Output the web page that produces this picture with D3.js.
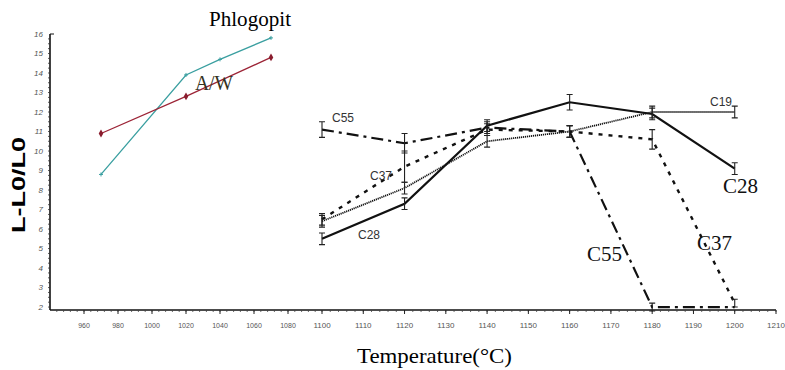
<!DOCTYPE html>
<html>
<head>
<meta charset="utf-8">
<script src="https://cdn.jsdelivr.net/npm/d3@7"></script>
<style>
body { margin: 0; background: #fff; }
</style>
</head>
<body>
<div id="chart"></div>
<script>
const width = 785;
const height = 370;

// main series, temperatures in °C
const temps = [1100, 1120, 1140, 1160, 1180, 1200];
const c28 = [5.5, 7.3, 11.3, 12.5, 11.9, 9.1];
const c19 = [6.4, 8.1, 10.5, 11.0, 12.0, 12.0];
const c37 = [6.5, 9.2, 11.1, 11.0, 10.6, 2.2];
const c55 = [11.1, 10.4, 11.2, 11.0, 2.0, 2.0];
const c28Err = [0.3, 0.3, 0.3, 0.4, 0.3, 0.3];
const c19Err = [0.3, 0.3, 0.3, 0.3, 0.3, 0.3];
const c37Err = [0.3, 0.8, 0.3, 0.3, 0.5, 0.2];
const c55Err = [0.4, 0.5, 0.3, 0.3, 0.2, 0];

// inset series
const awTemps = [970, 1020, 1070];
const awVals = [10.9, 12.8, 14.8];
const phTemps = [970, 1020, 1040, 1070];
const phVals = [8.8, 13.9, 14.7, 15.8];

const xTicksLeft = [960, 980, 1000, 1020, 1040, 1060, 1080];
const xTicksRight = [1100, 1110, 1120, 1130, 1140, 1150, 1160, 1170, 1180, 1190, 1200, 1210];
const yTicks = [2, 3, 4, 5, 6, 7, 8, 9, 10, 11, 12, 13, 14, 15, 16];

// broken axis: 940-1100 squeezed, 1100-1210 wide
const x = d3.scaleLinear().domain([940, 1100, 1210]).range([50, 322, 776]);
const y = d3.scaleLinear().domain([1.85, 16]).range([310, 34]);

const svg = d3.select('#chart').append('svg')
  .attr('width', width)
  .attr('height', height);

// y axis
svg.append('line')
  .attr('x1', 50).attr('x2', 50)
  .attr('y1', y(16)).attr('y2', y(1.85))
  .style('stroke', '#111').style('stroke-width', 1.6);

svg.append('line')
  .attr('x1', 50).attr('x2', 54)
  .attr('y1', y(16)).attr('y2', y(16))
  .style('stroke', '#111');

svg.selectAll('.ytick')
  .data(d3.range(2, 16, 0.25))
  .join('line')
  .attr('class', 'ytick')
  .attr('x1', 48).attr('x2', 50)
  .attr('y1', d => y(d)).attr('y2', d => y(d))
  .style('stroke', '#333').style('stroke-width', 0.8);

svg.selectAll('.ylab')
  .data(yTicks)
  .join('text')
  .attr('class', 'ylab')
  .attr('x', 43)
  .attr('y', d => y(d))
  .attr('dy', '0.33em')
  .attr('text-anchor', 'end')
  .style('font-family', 'Liberation Sans, Arial, sans-serif')
  .style('font-size', '8px')
  .style('font-style', 'italic')
  .style('fill', '#555')
  .text(d => d);

// x axis
svg.append('line')
  .attr('x1', 50).attr('x2', x(1210))
  .attr('y1', y(1.85)).attr('y2', y(1.85))
  .style('stroke', '#111').style('stroke-width', 1.6);

svg.selectAll('.xminor')
  .data(d3.range(944, 1100, 4).concat(d3.range(1100, 1211, 2)))
  .join('line')
  .attr('class', 'xminor')
  .attr('x1', d => x(d)).attr('x2', d => x(d))
  .attr('y1', y(1.85)).attr('y2', y(1.85) + 2)
  .style('stroke', '#444').style('stroke-width', 0.8);

svg.selectAll('.xmajor')
  .data(xTicksLeft.concat(xTicksRight))
  .join('line')
  .attr('class', 'xmajor')
  .attr('x1', d => x(d)).attr('x2', d => x(d))
  .attr('y1', y(1.85)).attr('y2', y(1.85) + 4)
  .style('stroke', '#222').style('stroke-width', 1);

svg.selectAll('.xlab')
  .data(xTicksLeft.concat(xTicksRight))
  .join('text')
  .attr('class', 'xlab')
  .attr('x', d => x(d))
  .attr('y', 328)
  .attr('text-anchor', 'middle')
  .style('font-family', 'Liberation Sans, Arial, sans-serif')
  .style('font-size', d => d < 1100 ? '7px' : '8px')
  .style('fill', '#555')
  .text(d => d);

// axis titles
svg.append('text')
  .attr('x', 357).attr('y', 363)
  .attr('textLength', 155)
  .attr('lengthAdjust', 'spacingAndGlyphs')
  .style('font-family', 'Liberation Serif, Times New Roman, serif')
  .style('font-size', '22px')
  .text('Temperature(°C)');

svg.append('text')
  .attr('transform', 'translate(25,185) rotate(-90)')
  .attr('text-anchor', 'middle')
  .attr('textLength', 96)
  .attr('lengthAdjust', 'spacingAndGlyphs')
  .style('font-family', 'Liberation Sans, Arial, sans-serif')
  .style('font-size', '18px')
  .style('font-weight', 'bold')
  .text('L-L0/L0');

// inset lines
const line = d3.line().x(d => x(d[0])).y(d => y(d[1]));

const awData = d3.zip(awTemps, awVals);
const phData = d3.zip(phTemps, phVals);

svg.append('path')
  .attr('d', line(phData))
  .style('fill', 'none')
  .style('stroke', '#3a9fa0')
  .style('stroke-width', 1.3);

svg.selectAll('.phmark')
  .data(phData)
  .join('path')
  .attr('class', 'phmark')
  .attr('d', d => `M${x(d[0]) - 2},${y(d[1])}h4M${x(d[0])},${y(d[1]) - 2}v4`)
  .style('stroke', '#3a9fa0');

svg.append('path')
  .attr('d', line(awData))
  .style('fill', 'none')
  .style('stroke', '#9c2436')
  .style('stroke-width', 1.3);

svg.selectAll('.awmark')
  .data(awData)
  .join('path')
  .attr('class', 'awmark')
  .attr('d', d3.symbol(d3.symbolDiamond, 18))
  .attr('transform', d => `translate(${x(d[0])},${y(d[1])})`)
  .style('fill', '#8a1d2e');

svg.append('text')
  .attr('x', 209).attr('y', 26)
  .attr('textLength', 82)
  .attr('lengthAdjust', 'spacingAndGlyphs')
  .style('font-family', 'Liberation Serif, Times New Roman, serif')
  .style('font-size', '20px')
  .text('Phlogopit');

svg.append('text')
  .attr('x', 195).attr('y', 90)
  .attr('textLength', 38)
  .attr('lengthAdjust', 'spacingAndGlyphs')
  .style('font-family', 'Liberation Serif, Times New Roman, serif')
  .style('font-size', '20px')
  .style('fill', '#332')
  .text('A/W');

// main series
const series = [
  {name: 'C28', vals: c28, err: c28Err, dash: null, w: 2.2},
  {name: 'C19', vals: c19, err: c19Err, dash: '1.2,0.8', w: 1.8},
  {name: 'C37', vals: c37, err: c37Err, dash: '4,6', w: 2.4},
  {name: 'C55', vals: c55, err: c55Err, dash: '12,5,3,5', w: 2.2}
];

series.forEach(s => {
  const pts = d3.zip(temps, s.vals);
  svg.append('path')
    .attr('d', line(pts))
    .style('fill', 'none')
    .style('stroke', '#111')
    .style('stroke-width', s.w)
    .style('stroke-dasharray', s.dash);

  const bars = pts.map((p, i) => [p[0], p[1], s.err[i]]).filter(d => d[2] > 0);
  svg.selectAll('.err' + s.name)
    .data(bars)
    .join('path')
    .attr('d', d => {
      const cx = x(d[0]);
      const y1 = y(d[1] + d[2]);
      const y2 = y(d[1] - d[2]);
      return `M${cx - 3},${y1}h6M${cx},${y1}V${y2}M${cx - 3},${y2}h6`;
    })
    .style('fill', 'none')
    .style('stroke', '#222')
    .style('stroke-width', 1.1);
});

// series labels
const sansLabels = [
  {t: 'C55', x: 332, y: 122},
  {t: 'C37', x: 370, y: 180},
  {t: 'C28', x: 358, y: 239},
  {t: 'C19', x: 710, y: 106}
];
svg.selectAll('.slab')
  .data(sansLabels)
  .join('text')
  .attr('class', 'slab')
  .attr('x', d => d.x).attr('y', d => d.y)
  .style('font-family', 'Liberation Sans, Arial, sans-serif')
  .style('font-size', '12px')
  .style('fill', '#333')
  .text(d => d.t);

const serifLabels = [
  {t: 'C28', x: 723, y: 193},
  {t: 'C55', x: 587, y: 261},
  {t: 'C37', x: 697, y: 250}
];
svg.selectAll('.flab')
  .data(serifLabels)
  .join('text')
  .attr('class', 'flab')
  .attr('x', d => d.x).attr('y', d => d.y)
  .attr('textLength', 35)
  .attr('lengthAdjust', 'spacingAndGlyphs')
  .style('font-family', 'Liberation Serif, Times New Roman, serif')
  .style('font-size', '21px')
  .style('fill', '#111')
  .text(d => d.t);
</script>
</body>
</html>
